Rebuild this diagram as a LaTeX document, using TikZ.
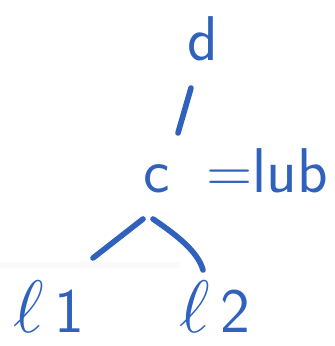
\documentclass[tikz,border=0pt]{standalone}
\usepackage{tikz}
\usepackage{graphicx}
\definecolor{handblue}{RGB}{48,98,189}
\begin{document}
\begin{tikzpicture}[x=0.02cm, y=-0.02cm, >=stealth,
    lbl/.style={text=handblue, font=\sffamily\fontsize{36}{40}\selectfont, inner sep=0pt, anchor=base},
    edge/.style={draw=handblue, line width=3.2pt, line cap=round}]
    \useasboundingbox (0,0) rectangle (335,346);
    \fill[black!2] (0,262) rectangle (180,268);

    \node[lbl] (d)   at (203,60)  {d};
    \node[lbl] (c)   at (157,192) {c};
    \node[lbl, anchor=base west] (lub) at (206,192) {=lub};
    \node[lbl] (l1)  at (49,332)  {\scalebox{1.7}{$\ell$}\,1};
    \node[lbl] (l2)  at (215,332) {\scalebox{1.7}{$\ell$}\,2};

    % line ends
    \coordinate (dtop) at (191,88);
    \coordinate (cup)  at (178,133);
    \coordinate (cl)   at (143,219);
    \coordinate (cr)   at (153,219);
    \coordinate (lend) at (93,258);
    \coordinate (rend) at (203,270);

    \draw[edge] (dtop) -- (cup);
    \draw[edge] (cl) -- (lend);
    \draw[edge] (cr) .. controls (178,236) and (198,252) .. (rend);
\end{tikzpicture}
\end{document}
